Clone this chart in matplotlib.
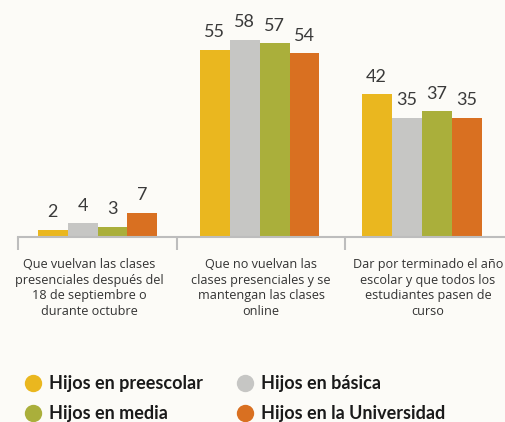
import matplotlib
matplotlib.use("Agg")
import matplotlib.pyplot as plt
from matplotlib.lines import Line2D
import numpy as np

categories = [
    "Que vuelvan las clases\npresenciales después del\n18 de septiembre o\ndurante octubre",
    "Que no vuelvan las\nclases presenciales y se\nmantengan las clases\nonline",
    "Dar por terminado el año\nescolar y que todos los\nestudiantes pasen de\ncurso",
]
series_names = ["Hijos en preescolar", "Hijos en básica", "Hijos en media", "Hijos en la Universidad"]
preescolar = [2, 55, 42]
basica = [4, 58, 35]
media = [3, 57, 37]
universidad = [7, 54, 35]
series_values = [preescolar, basica, media, universidad]
colors = ["#EAB71F", "#C6C6C4", "#AAAF3B", "#D97021"]

BG = "#FCFBF7"
W, H = 505, 422
fig = plt.figure(figsize=(W / 100, H / 100), dpi=100, facecolor=BG)
plt.rcParams['font.family'] = ['Lato', 'DejaVu Sans']

ax_left, ax_right, ax_bottom, ax_top = 18, 505, 237, 10
ax = fig.add_axes([ax_left / W, 1 - ax_bottom / H, (ax_right - ax_left) / W, (ax_bottom - ax_top) / H])
ax.set_facecolor(BG)

x = np.arange(len(categories))
bw = 0.185
offsets = [-1.5, -0.5, 0.5, 1.5]
for vals, col, off in zip(series_values, colors, offsets):
    bars = ax.bar(x + off * bw, vals, width=bw, color=col, linewidth=0)
    for b, v in zip(bars, vals):
        ax.annotate(str(v), (b.get_x() + b.get_width() / 2, v), xytext=(0, 7),
                    textcoords="offset points", ha="center", va="bottom",
                    fontsize=13, color="#3a3a3a")

ax.set_xlim(-0.4907, 2.515)
ax.set_ylim(0, 66.8)
for s in ["top", "right", "left"]:
    ax.spines[s].set_visible(False)
ax.spines["bottom"].set_color("#BDBDBD")
ax.spines["bottom"].set_linewidth(1.5)
ax.set_yticks([])
ax.set_xticks([-0.4907, 0.49, 1.525])
ax.set_xticklabels([])
ax.tick_params(axis="x", length=9, width=1.5, color="#BDBDBD", direction="out")

label_x = [89, 261, 428]
for lx, cat in zip(label_x, categories):
    fig.text(lx / W, 1 - 258 / H, cat, ha="center", va="top", fontsize=9.1,
             family=["Open Sans", "DejaVu Sans"], color="#333333", linespacing=1.27)

legend_pos = [(33, 383), (245, 383), (33, 413), (245, 413)]
for (cx, cy), name, col in zip(legend_pos, series_names, colors):
    fig.add_artist(Line2D([cx / W], [1 - cy / H], marker="o", markersize=12.5,
                          color=col, markeredgewidth=0, linestyle="none",
                          transform=fig.transFigure))
    fig.text((cx + 16) / W, 1 - cy / H, name, ha="left", va="center", fontsize=13,
             fontweight="bold", color="#1a1a1a")

fig.savefig("out.png", dpi=100, facecolor=BG)
